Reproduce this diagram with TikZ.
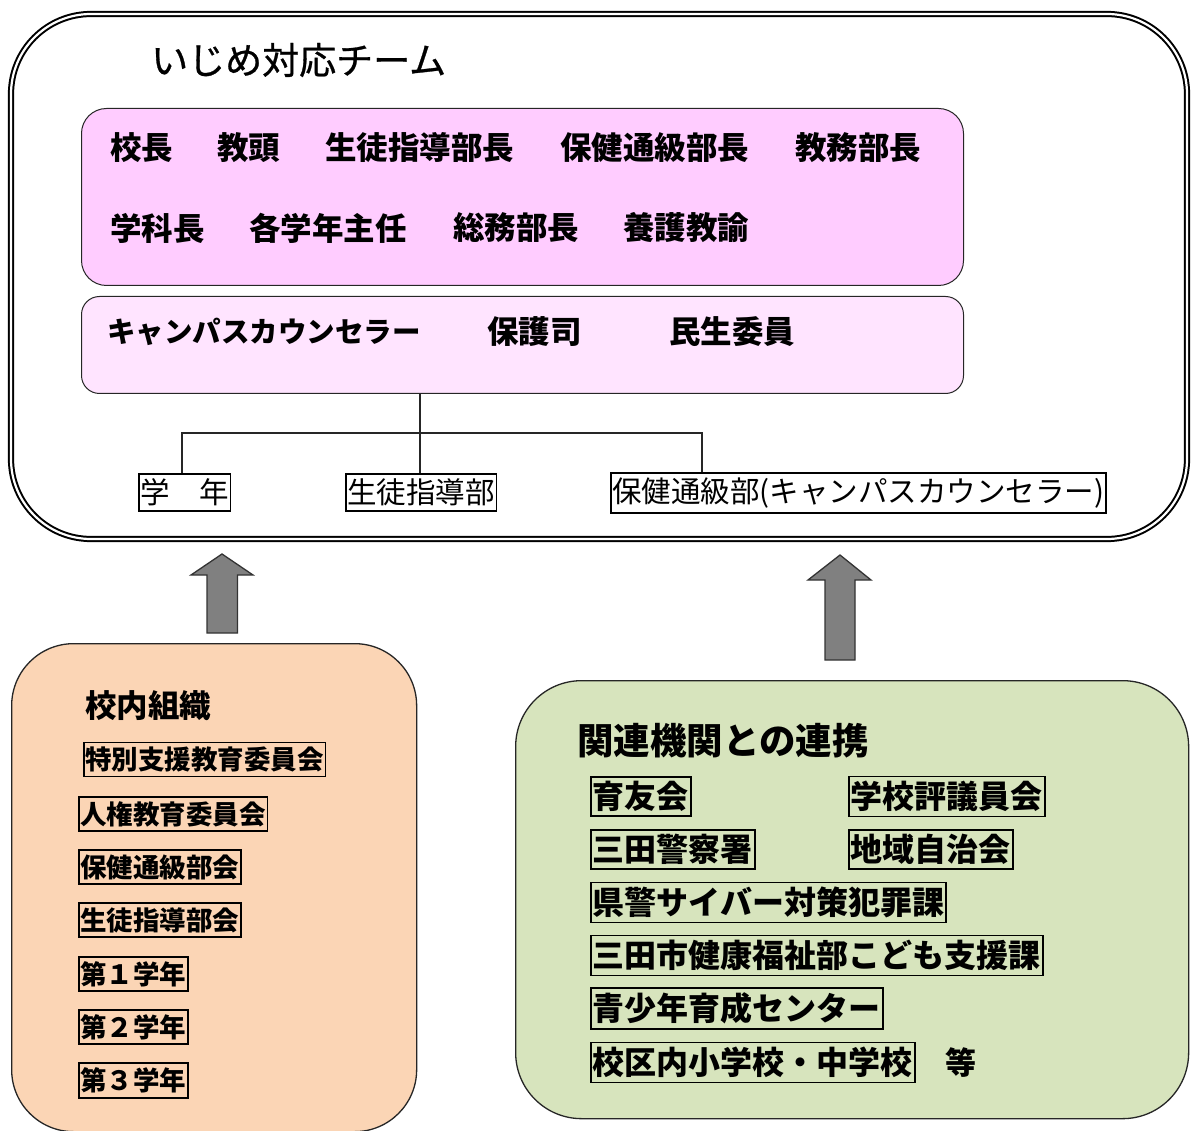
\documentclass[tikz,border=0pt]{standalone}
\usepackage{fontspec}
\setmainfont{Noto Sans CJK JP}
\newfontfamily\titlefont{Noto Sans CJK JP}[FakeBold=0.8]
\definecolor{bgY}{RGB}{252,250,212}
\definecolor{pinkA}{RGB}{255,204,255}
\definecolor{pinkB}{RGB}{255,228,255}
\definecolor{peach}{RGB}{251,213,181}
\definecolor{sage}{RGB}{215,228,189}
\definecolor{arrowgray}{RGB}{128,128,128}
\pgfdeclarehorizontalshading{bgshade}{100bp}{color(0bp)=(bgY); color(18bp)=(white); color(78bp)=(white); color(100bp)=(bgY)}
\tikzset{
  panel/.style={draw=black!85, line width=1pt, inner sep=0pt, anchor=north west},
  role/.style={anchor=west, inner sep=0pt, font=\fontsize{31.5}{31.5}\selectfont\bfseries},
  unit/.style={anchor=west, draw=black, line width=1.6pt, fill=white, inner xsep=1.5pt, inner ysep=5pt, font=\fontsize{29.5}{29.5}\selectfont},
  inbox/.style={anchor=west, draw=black, line width=1.6pt, inner xsep=1.5pt, inner ysep=4.5pt, font=\fontsize{26.5}{26.5}\selectfont\bfseries},
  outbox/.style={anchor=west, draw=black, line width=1.6pt, inner xsep=2pt, inner ysep=4.5pt, font=\fontsize{32}{32}\selectfont\bfseries},
  conn/.style={draw=black!85, line width=1.3pt},
  blockarrow/.style={fill=arrowgray, draw=black!80, line width=1.3pt, line join=miter}
}
\begin{document}
\begin{tikzpicture}[x=1pt,y=-1pt]
\useasboundingbox (0,0) rectangle (1192,1131);
\shade[shading=bgshade] (0,0) rectangle (1192,1131);

% team frame
\draw[line width=2pt, double=white, double distance=2.2pt, rounded corners=80] (11,14) rectangle (1187,539);
\node[anchor=west, inner sep=0pt, font=\fontsize{37}{37}\titlefont] (title) at (151,60) {いじめ対応チーム};

\node[panel, fill=pinkA, rounded corners=25, minimum width=882, minimum height=177] (core) at (81,108) {};
\node[role] (r1) at (110,148) {校長};
\node[role] (r2) at (217,148) {教頭};
\node[role] (r3) at (325,148) {生徒指導部長};
\node[role] (r4) at (560,148) {保健通級部長};
\node[role] (r5) at (795,148) {教務部長};
\node[role] (r6) at (110,228) {学科長};
\node[role] (r7) at (249,228) {各学年主任};
\node[role] (r8) at (453,228) {総務部長};
\node[role] (r9) at (623,228) {養護教諭};

\node[panel, fill=pinkB, rounded corners=18, minimum width=882, minimum height=97] (outer) at (81,296) {};
\node[role, font=\fontsize{28.5}{28.5}\selectfont\bfseries] (o1) at (107,332) {キャンパスカウンセラー};
\node[role] (o2) at (487,332) {保護司};
\node[role] (o3) at (669,332) {民生委員};

\node[unit] (gakunen) at (138,492.5) {学　年};
\node[unit] (shido) at (345,492.5) {生徒指導部};
\node[unit] (hoken) at (610,493) {保健通級部(キャンパスカウンセラー)};

\coordinate (hub) at (420,433);
\coordinate (hubL) at (182,433);
\coordinate (hubR) at (702,433);
\draw[conn] (outer.south -| hub) -- (hub);
\draw[conn] (gakunen.north -| hubL) -- (hubL) -- (hubR) -- (hoken.north -| hubR);
\draw[conn] (hub) -- (shido.north -| hub);

% block arrows
\draw[blockarrow] (222,554) -- (253,575) -- (237.5,575) -- (237.5,633) -- (207,633) -- (207,575) -- (191,575) -- cycle;
\draw[blockarrow] (840,555) -- (871,580) -- (855,580) -- (855,660) -- (825,660) -- (825,580) -- (808,580) -- cycle;

% school internal
\node[panel, fill=peach, rounded corners=62, minimum width=405, minimum height=488, line width=1.3pt] (school) at (11,643) {};
\node[anchor=west, inner sep=0pt, font=\fontsize{31.5}{31.5}\selectfont\bfseries] (stitle) at (85,706) {校内組織};
\node[inbox] (s1) at (83,759.5) {特別支援教育委員会};
\node[inbox] (s2) at (78,814) {人権教育委員会};
\node[inbox] (s3) at (78,867) {保健通級部会};
\node[inbox] (s4) at (78,920) {生徒指導部会};
\node[inbox] (s5) at (78,974) {第１学年};
\node[inbox] (s6) at (78,1027) {第２学年};
\node[inbox] (s7) at (78,1080.5) {第３学年};

% external
\node[panel, fill=sage, rounded corners=66, minimum width=673, minimum height=438, line width=1.3pt] (ext) at (515,680) {};
\node[anchor=west, inner sep=0pt, font=\fontsize{36.5}{36.5}\selectfont\bfseries] (etitle) at (577,741) {関連機関との連携};
\node[outbox] (e1) at (590,796.5) {育友会};
\node[outbox] (e2) at (848,796.5) {学校評議員会};
\node[outbox] (e3) at (590,849.5) {三田警察署};
\node[outbox] (e4) at (848,849.5) {地域自治会};
\node[outbox] (e5) at (590,902.5) {県警サイバー対策犯罪課};
\node[outbox] (e6) at (590,955.5) {三田市健康福祉部こども支援課};
\node[outbox] (e7) at (590,1008.5) {青少年育成センター};
\node[outbox] (e8) at (590,1062.5) {校区内小学校・中学校};
\node[anchor=west, inner sep=0pt, font=\fontsize{31}{31}\selectfont\bfseries] (etc) at (945,1062.5) {等};
\end{tikzpicture}
\end{document}
